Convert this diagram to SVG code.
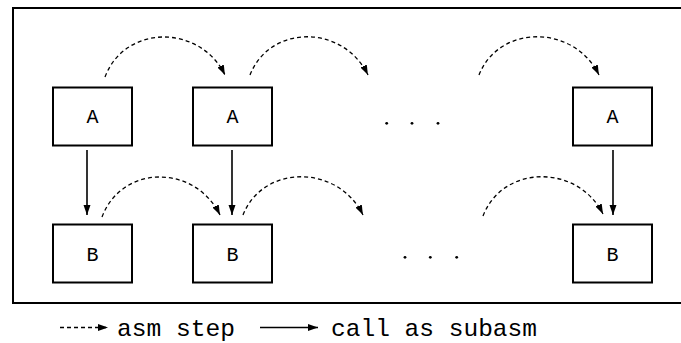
<svg xmlns="http://www.w3.org/2000/svg" width="681" height="343" viewBox="0 0 681 343">
<style>
.box{fill:#fff;stroke:#000;stroke-width:2}
.lbl{font-family:"Liberation Mono","Courier New",monospace;font-size:20px;fill:#000;text-anchor:middle}
.step{fill:none;stroke:#000;stroke-width:1.3;stroke-dasharray:4 3}
.call{fill:none;stroke:#000;stroke-width:1.6}
.leg{font-family:"Liberation Mono","Courier New",monospace;font-size:24px;fill:#000}
</style>
<defs>
<marker id="ah" markerWidth="10" markerHeight="8" refX="10" refY="4" orient="auto" markerUnits="userSpaceOnUse">
<path d="M0,0.5 L10,4 L0,7.5 Z" fill="#000"/>
</marker>
</defs>
<rect x="0" y="0" width="681" height="343" fill="#fff"/>
<rect id="frame" x="13" y="8" width="680" height="295" fill="none" stroke="#000" stroke-width="2"/>
<g id="A1"><rect class="box" x="53" y="87.5" width="79" height="58"/><text class="lbl" x="92.5" y="122.5">A</text></g>
<g id="A2"><rect class="box" x="193" y="87.5" width="79" height="58"/><text class="lbl" x="232.5" y="122.5">A</text></g>
<g id="A3"><rect class="box" x="573" y="87.5" width="79" height="58"/><text class="lbl" x="612.5" y="122.5">A</text></g>
<g id="B1"><rect class="box" x="53" y="224.5" width="79" height="58"/><text class="lbl" x="92.5" y="260.5">B</text></g>
<g id="B2"><rect class="box" x="193" y="224.5" width="79" height="58"/><text class="lbl" x="232.5" y="260.5">B</text></g>
<g id="B3"><rect class="box" x="573" y="224.5" width="79" height="58"/><text class="lbl" x="612.5" y="260.5">B</text></g>
<g id="dotsTop"><circle cx="386.7" cy="123.3" r="1.4"/><circle cx="412" cy="123.3" r="1.4"/><circle cx="438" cy="123.3" r="1.4"/></g>
<g id="dotsBottom"><circle cx="405" cy="257.3" r="1.4"/><circle cx="430.3" cy="257.3" r="1.4"/><circle cx="456.7" cy="257.3" r="1.4"/></g>
<g id="connectors">
<path class="step" d="M105,77 C125,24 200,24 225,75" marker-end="url(#ah)"/>
<path class="step" d="M250,75 C270,24 343,24 368,75" marker-end="url(#ah)"/>
<path class="step" d="M479,75 C499,24 574,24 599,75" marker-end="url(#ah)"/>
<path class="step" d="M102,217 C122,164 195,164 220,215" marker-end="url(#ah)"/>
<path class="step" d="M243,215 C263,164 338,164 363,215" marker-end="url(#ah)"/>
<path class="step" d="M483,216 C503,164 578,164 603,214" marker-end="url(#ah)"/>
<path class="call" d="M87,150 V215" marker-end="url(#ah)"/>
<path class="call" d="M232,150 V215" marker-end="url(#ah)"/>
<path class="call" d="M613,150 V215" marker-end="url(#ah)"/>
</g>
<g id="legend">
<path class="step" d="M60,327.5 H108" marker-end="url(#ah)"/>
<text class="leg" x="117" y="336" textLength="118" lengthAdjust="spacingAndGlyphs">asm step</text>
<path class="call" d="M260,327.5 H318" marker-end="url(#ah)"/>
<text class="leg" x="331" y="336" textLength="206" lengthAdjust="spacingAndGlyphs">call as subasm</text>
</g>
</svg>
